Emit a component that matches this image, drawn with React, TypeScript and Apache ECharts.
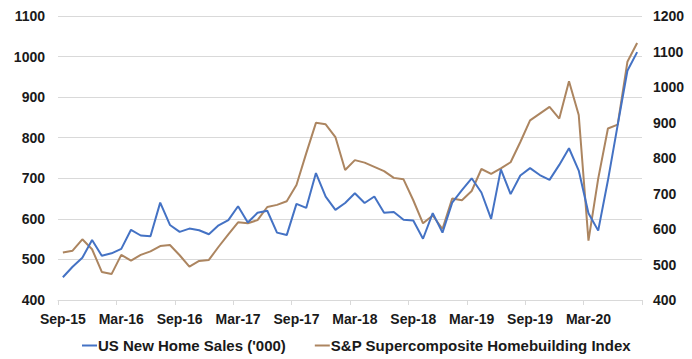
import React, { useEffect, useRef } from "react";
import * as echarts from "echarts";

const categories = [
  "Sep-15","Oct-15","Nov-15","Dec-15","Jan-16","Feb-16","Mar-16","Apr-16","May-16","Jun-16","Jul-16","Aug-16",
  "Sep-16","Oct-16","Nov-16","Dec-16","Jan-17","Feb-17","Mar-17","Apr-17","May-17","Jun-17","Jul-17","Aug-17",
  "Sep-17","Oct-17","Nov-17","Dec-17","Jan-18","Feb-18","Mar-18","Apr-18","May-18","Jun-18","Jul-18","Aug-18",
  "Sep-18","Oct-18","Nov-18","Dec-18","Jan-19","Feb-19","Mar-19","Apr-19","May-19","Jun-19","Jul-19","Aug-19",
  "Sep-19","Oct-19","Nov-19","Dec-19","Jan-20","Feb-20","Mar-20","Apr-20","May-20","Jun-20","Jul-20","Aug-20",
];

const homeSales = [
  456, 482, 504, 548, 509, 515, 526, 573, 559, 557, 640, 585,
  568, 576, 572, 562, 584, 597, 631, 591, 615, 620, 566, 560,
  637, 627, 713, 655, 622, 639, 663, 639, 655, 615, 617, 598,
  596, 551, 614, 566, 640, 671, 700, 665, 600, 722, 661, 707,
  725, 708, 696, 733, 774, 719, 614, 571, 695, 831, 965, 1011,
];

const homebuildingIndex = [
  534, 539, 571, 543, 479, 473, 527, 511, 527, 537, 552, 555,
  526, 494, 510, 513, 550, 585, 619, 616, 625, 662, 668, 678,
  724, 813, 899, 895, 859, 766, 794, 787, 775, 763, 744, 740,
  681, 616, 638, 600, 686, 681, 707, 769, 755, 771, 788, 845,
  906, 925, 944, 911, 1016, 921, 567, 742, 883, 894, 1071, 1124,
];

const FONT = "'Liberation Sans', Arial, sans-serif";
const TEXT_COLOR = "#1a1a1a";

export default function App() {
  const ref = useRef<HTMLDivElement>(null);
  useEffect(() => {
    if (!ref.current) return;
    const chart = echarts.init(ref.current, null, { renderer: "svg" });
    chart.setOption({
      animation: false,
      textStyle: { fontFamily: FONT },
      grid: { left: 58, right: 50, top: 16, bottom: 59, containLabel: false },
      legend: {
        bottom: 1,
        left: 77,
        itemWidth: 15,
        itemHeight: 2,
        itemGap: 29,
        icon: "rect",
        textStyle: { fontFamily: FONT, fontSize: 15, fontWeight: "bold", color: TEXT_COLOR, padding: [0, 0, 0, -4] },
        data: ["US New Home Sales ('000)", "S&P Supercomposite Homebuilding Index"],
      },
      xAxis: {
        type: "category",
        data: categories,
        boundaryGap: true,
        axisLine: { lineStyle: { color: "#d9d9d9", width: 1 } },
        axisTick: { show: true, interval: 5, length: 5, lineStyle: { color: "#d9d9d9" } },
        axisLabel: {
          interval: 5,
          fontFamily: FONT,
          fontSize: 14,
          fontWeight: "bold",
          color: TEXT_COLOR,
          margin: 12,
        },
        splitLine: { show: false },
      },
      yAxis: [
        {
          type: "value",
          min: 400,
          max: 1100,
          interval: 100,
          axisLine: { show: false },
          axisTick: { show: false },
          axisLabel: {
            fontFamily: FONT, fontSize: 14, fontWeight: "bold", color: TEXT_COLOR, margin: 13,
            formatter: (v: number) => String(v),
          },
          splitLine: { lineStyle: { color: "#d9d9d9", width: 1 } },
        },
        {
          type: "value",
          min: 400,
          max: 1200,
          interval: 100,
          position: "right",
          axisLine: { show: false },
          axisTick: { show: false },
          axisLabel: {
            fontFamily: FONT, fontSize: 14, fontWeight: "bold", color: TEXT_COLOR, margin: 11,
            formatter: (v: number) => String(v),
          },
          splitLine: { show: false },
        },
      ],
      series: [
        {
          name: "US New Home Sales ('000)",
          type: "line",
          yAxisIndex: 0,
          data: homeSales,
          symbol: "none",
          lineStyle: { color: "#4472C4", width: 2 },
          itemStyle: { color: "#4472C4" },
          z: 3,
        },
        {
          name: "S&P Supercomposite Homebuilding Index",
          type: "line",
          yAxisIndex: 1,
          data: homebuildingIndex,
          symbol: "none",
          lineStyle: { color: "#AC8560", width: 2 },
          itemStyle: { color: "#AC8560" },
          z: 2,
        },
      ],
    });
    return () => chart.dispose();
  }, []);
  return <div ref={ref} style={{ width: 692, height: 359, position: "absolute", left: 0, top: 0 }} />;
}
